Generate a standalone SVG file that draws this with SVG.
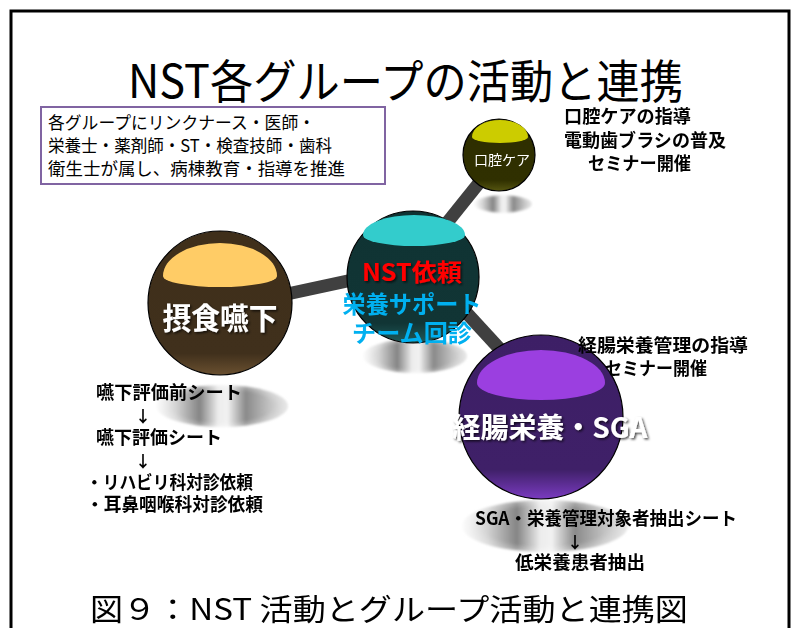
<svg xmlns="http://www.w3.org/2000/svg" width="799" height="628" viewBox="0 0 799 628">
<style>
.jp{font-family:"Noto Sans CJK JP","Noto Sans",sans-serif}
.b{font-weight:bold;fill:#000;font-size:18px}
.ar{font-weight:bold;fill:#000;font-size:16px}
.lbl{font-weight:bold;fill:#fff;filter:url(#ts)}
.ln{stroke:#404040;stroke-width:13;fill:none}
.ol{stroke:#000;stroke-width:1.2}
.sd{fill:url(#sh);mask:url(#sm)}
</style>
<defs>
<filter id="ts" x="-10%" y="-30%" width="130%" height="160%">
<feDropShadow dx="1.5" dy="1.5" stdDeviation="1" flood-color="#000" flood-opacity="0.7"/>
</filter>
<filter id="bl" x="-20%" y="-50%" width="140%" height="200%"><feGaussianBlur stdDeviation="1"/></filter>
<linearGradient id="sh" x1="0" y1="0" x2="1" y2="0">
<stop offset="0" stop-color="#fafafa"/>
<stop offset="0.15" stop-color="#d4d4d4"/>
<stop offset="0.33" stop-color="#858585"/>
<stop offset="0.47" stop-color="#ececec"/>
<stop offset="0.54" stop-color="#f2f2f2"/>
<stop offset="0.68" stop-color="#8a8a8a"/>
<stop offset="0.86" stop-color="#c2c2c2"/>
<stop offset="1" stop-color="#dedede"/>
</linearGradient>
<radialGradient id="smg" cx="0.5" cy="0.5" r="0.5">
<stop offset="0" stop-color="#fff"/><stop offset="0.75" stop-color="#fff"/><stop offset="1" stop-color="#aaa"/>
</radialGradient>
<mask id="sm" maskContentUnits="objectBoundingBox"><rect width="1" height="1" fill="url(#smg)"/></mask>
<linearGradient id="gP" x1="0" y1="0" x2="0" y2="1">
<stop offset="0" stop-color="#3d1f66"/><stop offset="0.82" stop-color="#3f2068"/><stop offset="1" stop-color="#7a3bc0"/>
</linearGradient>
<linearGradient id="gT" x1="0" y1="0" x2="0" y2="1">
<stop offset="0" stop-color="#0f3333"/><stop offset="0.85" stop-color="#113535"/><stop offset="1" stop-color="#1f5a5a"/>
</linearGradient>
<linearGradient id="gB" x1="0" y1="0" x2="0" y2="1">
<stop offset="0" stop-color="#3f2f1a"/><stop offset="0.85" stop-color="#40301c"/><stop offset="1" stop-color="#6a5030"/>
</linearGradient>
<linearGradient id="gO" x1="0" y1="0" x2="0" y2="1">
<stop offset="0" stop-color="#2e2e00"/><stop offset="0.85" stop-color="#303000"/><stop offset="1" stop-color="#555510"/>
</linearGradient>
</defs>
<rect width="799" height="628" fill="#fff"/>
<path d="M11 628 V11 H789 V628" fill="none" stroke="#000" stroke-width="3"/>
<text class="jp" x="128" y="98" font-size="46" textLength="555" lengthAdjust="spacingAndGlyphs">NST各グループの活動と連携</text>
<g id="info">
<rect x="41" y="107" width="344" height="77" fill="#fff" stroke="#8064a2" stroke-width="2"/>
<text class="jp" font-size="17.5" fill="#000">
<tspan x="48" y="129" textLength="267" lengthAdjust="spacingAndGlyphs">各グループにリンクナース・医師・</tspan>
<tspan x="48" y="152" textLength="284" lengthAdjust="spacingAndGlyphs">栄養士・薬剤師・ST・検査技師・歯科</tspan>
<tspan x="48" y="175" textLength="297" lengthAdjust="spacingAndGlyphs">衛生士が属し、病棟教育・指導を推進</tspan>
</text>
</g>
<g id="shadows" filter="url(#bl)">
<ellipse class="sd" cx="503" cy="204" rx="29" ry="9"/>
<ellipse class="sd" cx="222" cy="406" rx="66" ry="21"/>
<ellipse class="sd" cx="415" cy="356" rx="52" ry="17"/>
<ellipse class="sd" cx="545" cy="526" rx="83" ry="26"/>
</g>
<g id="connectors">
<line class="ln" x1="250" y1="302" x2="380" y2="274"/>
<line class="ln" x1="430" y1="244" x2="495" y2="163"/>
<line class="ln" x1="440" y1="284" x2="520" y2="371"/>
</g>
<g id="oral">
<circle cx="499" cy="155" r="36" fill="url(#gO)" class="ol"/>
<path d="M472 137 A28 17 0 0 1 528 137 A28 6 0 0 1 472 137 Z" fill="#cccc00"/>
<text class="jp" x="502" y="165" font-size="14" fill="#fff" text-anchor="middle">口腔ケア</text>
</g>
<g id="nst">
<circle cx="413" cy="277" r="66" fill="url(#gT)" class="ol"/>
<path d="M363 235 A51 20 0 0 1 465 235 A51 11 0 0 1 363 235 Z" fill="#33cccc"/>
<text class="jp" x="412" y="281" font-size="24" font-weight="bold" fill="#ff0000" text-anchor="middle" textLength="100" lengthAdjust="spacingAndGlyphs" filter="url(#ts)">NST依頼</text>
<text class="jp" x="412" y="313" font-size="24" font-weight="bold" fill="#00b0f0" text-anchor="middle" textLength="139" lengthAdjust="spacingAndGlyphs">栄養サポート</text>
<text class="jp" x="412" y="342" font-size="24" font-weight="bold" fill="#00b0f0" text-anchor="middle" textLength="120" lengthAdjust="spacingAndGlyphs">チーム回診</text>
</g>
<g id="swallow">
<circle cx="220" cy="303" r="72" fill="url(#gB)" class="ol"/>
<path d="M163 276 A57 33 0 0 1 277 276 A57 11 0 0 1 163 276 Z" fill="#ffcc66"/>
<text class="jp lbl" x="220" y="329" font-size="30" text-anchor="middle" textLength="115" lengthAdjust="spacingAndGlyphs">摂食嚥下</text>
</g>
<g id="enteral">
<circle cx="541" cy="417" r="82" fill="url(#gP)" class="ol"/>
<path d="M477 383 A64 33 0 0 1 605 383 A64 17 0 0 1 477 383 Z" fill="#9b3fe0"/>
<text class="jp lbl" x="550" y="438" font-size="28" text-anchor="middle" textLength="195" lengthAdjust="spacingAndGlyphs">経腸栄養・SGA</text>
</g>
<g id="notes">
<text class="b jp" x="564" y="123" textLength="127" lengthAdjust="spacingAndGlyphs">口腔ケアの指導</text>
<text class="b jp" x="564" y="147" textLength="162" lengthAdjust="spacingAndGlyphs">電動歯ブラシの普及</text>
<text class="b jp" x="588" y="170" textLength="103" lengthAdjust="spacingAndGlyphs">セミナー開催</text>
<text class="b jp" x="578" y="352" textLength="170" lengthAdjust="spacingAndGlyphs">経腸栄養管理の指導</text>
<text class="b jp" x="605" y="375" textLength="102" lengthAdjust="spacingAndGlyphs">セミナー開催</text>
<text class="b jp" x="96" y="399" textLength="146" lengthAdjust="spacingAndGlyphs">嚥下評価前シート</text>
<text class="ar jp" x="143" y="422" text-anchor="middle">↓</text>
<text class="b jp" x="96" y="444" textLength="126" lengthAdjust="spacingAndGlyphs">嚥下評価シート</text>
<text class="ar jp" x="143" y="467" text-anchor="middle">↓</text>
<text class="b jp" x="86" y="489" textLength="167" lengthAdjust="spacingAndGlyphs">・リハビリ科対診依頼</text>
<text class="b jp" x="86" y="511" textLength="177" lengthAdjust="spacingAndGlyphs">・耳鼻咽喉科対診依頼</text>
<text class="b jp" x="475" y="525" textLength="262" lengthAdjust="spacingAndGlyphs">SGA・栄養管理対象者抽出シート</text>
<text class="ar jp" x="575" y="548" text-anchor="middle">↓</text>
<text class="b jp" x="515" y="569" textLength="130" lengthAdjust="spacingAndGlyphs">低栄養患者抽出</text>
</g>
<text class="jp" x="90" y="620" font-size="30" textLength="598" lengthAdjust="spacingAndGlyphs">図９：NST 活動とグループ活動と連携図</text>
</svg>
